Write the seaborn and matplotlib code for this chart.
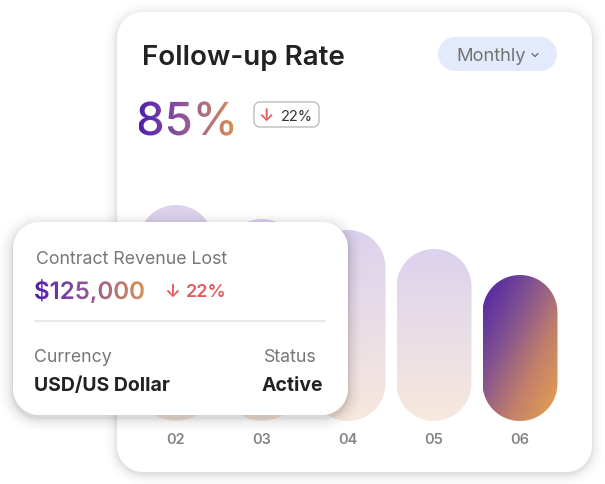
"""Follow-up rate card with overlay revenue card."""

import matplotlib

matplotlib.use("Agg")

import matplotlib.pyplot as plt
import numpy as np
import seaborn as sns
from matplotlib.colors import LinearSegmentedColormap
from matplotlib.font_manager import FontProperties
from matplotlib.patches import PathPatch, Polygon
from matplotlib.text import TextPath
from matplotlib.transforms import Affine2D

# data
months = ["02", "03", "04", "05", "06"]
bar_heights = [216, 202, 191, 172, 146]
highlight_month = "06"

title = "Follow-up Rate"
period = "Monthly"
rate_value = "85%"
rate_change = "22%"
revenue_label = "Contract Revenue Lost"
revenue_value = "$125,000"
revenue_change = "22%"
currency_label, currency_value = "Currency", "USD/US Dollar"
status_label, status_value = "Status", "Active"

W, H = 605, 484
FONT = ["Inter", "DejaVu Sans"]
PURPLE, ORANGE = "#4f21ae", "#d88e52"
LIGHT_TOP, LIGHT_BOTTOM = "#dcd2ee", "#f7e9de"
TEXT_DARK, TEXT_GRAY, RED = "#222222", "#777777", "#e25c5c"

sns.set_theme(style="white")
plt.rcParams["font.family"] = FONT


def rounded(ax, x, y, w, h, r, **kw):
    # rounded rectangle with true circular corners (y grows downwards)
    r = min(r, w / 2, h / 2)
    t = np.linspace(0, np.pi / 2, 24)
    pts = []
    for cx, cy, a0 in [(x + w - r, y + r, -np.pi / 2), (x + w - r, y + h - r, 0),
                       (x + r, y + h - r, np.pi / 2), (x + r, y + r, np.pi)]:
        pts.extend(zip(cx + r * np.cos(a0 + t), cy + r * np.sin(a0 + t)))
    poly = Polygon(pts, closed=True, **kw)
    ax.add_patch(poly)
    return poly


def card(ax, x, y, w, h, r, shadow=0.05, drop=3, spread=12):
    for i in range(spread, 0, -1):
        rounded(ax, x - i, y - i + drop, w + 2 * i, h + 2 * i, r + i,
                facecolor="black", edgecolor="none", alpha=shadow / i ** 0.8)
    rounded(ax, x, y, w, h, r, facecolor="white", edgecolor="none")


def fill_gradient(ax, clip, x0, y0, x1, y1, stops, diagonal=False, n=200):
    cmap = LinearSegmentedColormap.from_list("g", stops)
    X, Y = np.meshgrid(np.linspace(0, 1, n), np.linspace(0, 1, n))
    t = (X + Y) / 2 if diagonal else Y
    im = ax.imshow(cmap(t), extent=[x0, x1, y1, y0], origin="upper",
                   aspect="auto", interpolation="bilinear", zorder=clip.get_zorder())
    im.set_clip_path(clip)


def gradient_text(ax, x, y, s, size, weight):
    prop = FontProperties(family=FONT, weight=weight)
    tp = TextPath((0, 0), s, size=size, prop=prop)
    path = Affine2D().scale(1, -1).translate(x, y).transform_path(tp)
    patch = PathPatch(path, facecolor="none", edgecolor="none", transform=ax.transData,
                      zorder=4)
    ax.add_patch(patch)
    ext = path.get_extents()
    cmap = LinearSegmentedColormap.from_list("t", [PURPLE, "#955a98", ORANGE])
    grad = cmap(np.linspace(0, 1, 256))[None, :, :]
    im = ax.imshow(grad, extent=[ext.x0, ext.x1, ext.y1, ext.y0], origin="upper",
                   aspect="auto", interpolation="bilinear", zorder=4)
    im.set_clip_path(patch)
    return ext


fig = plt.figure(figsize=(W / 100, H / 100), dpi=100)
fig.patch.set_facecolor("white")

ax0 = fig.add_axes([0, 0, 1, 1], zorder=0)
ax0.set_xlim(0, W)
ax0.set_ylim(H, 0)
ax0.set_autoscale_on(False)
ax0.axis("off")

# main card
card(ax0, 117, 12, 475, 460, 26, shadow=0.03, drop=2)
ax0.text(142, 65, title, fontsize=20, fontweight="semibold", color=TEXT_DARK)
rounded(ax0, 438, 37, 119, 34, 17, facecolor="#e3eafc", edgecolor="none")
ax0.text(456, 61, period, fontsize=13.2, color="#737373")
ax0.plot([532, 535, 538], [53.5, 56.5, 53.5], color="#737373", lw=1.0,
         solid_capstyle="round", solid_joinstyle="round")
gradient_text(ax0, 136, 135, rate_value, 45.5, "medium")
rounded(ax0, 254, 102, 65, 25, 6, facecolor="white", edgecolor="#b5b5b5", lw=0.9)
ax0.text(266, 121, "↓", fontsize=12.5, color=RED, ha="center", fontweight="semibold")
ax0.text(281, 121, rate_change, fontsize=10.5, color="#333333")

# bars through seaborn
ax_bar = fig.add_axes([133 / W, (H - 421) / H, 430 / W, 230 / H], zorder=1)
sns.barplot(x=months, y=bar_heights, width=75 / 86, ax=ax_bar, color=LIGHT_TOP)
ax_bar.set_xlim(-0.5, len(months) - 0.5)
ax_bar.set_ylim(0, 230)
ax_bar.set_facecolor("none")
sns.despine(ax=ax_bar, left=True, bottom=True)
ax_bar.set_yticks([])
ax_bar.tick_params(axis="x", length=0, pad=9, labelsize=10.5, labelcolor="#858585")
for lbl in ax_bar.get_xticklabels():
    lbl.set_fontweight("semibold")

to_px = ax_bar.transData + ax0.transData.inverted()
for month, patch in zip(months, ax_bar.patches):
    bx, bw, bh = patch.get_x(), patch.get_width(), patch.get_height()
    (x0, y1), (x1, y0) = to_px.transform([(bx, 0), (bx + bw, bh)])
    patch.set_visible(False)
    pill = rounded(ax0, x0, y0, x1 - x0, y1 - y0, (x1 - x0) / 2,
                   facecolor="none", edgecolor="none", zorder=2)
    if month == highlight_month:
        fill_gradient(ax0, pill, x0, y0, x1, y1,
                      ["#4a1fa8", "#7e4f92", "#c2806a", "#eba34c"], diagonal=True)
    else:
        fill_gradient(ax0, pill, x0, y0, x1, y1, [LIGHT_TOP, LIGHT_BOTTOM])

# overlay card
ax_top = fig.add_axes([0, 0, 1, 1], zorder=3)
ax_top.set_xlim(0, W)
ax_top.set_ylim(H, 0)
ax_top.set_autoscale_on(False)
ax_top.axis("off")
ax_top.patch.set_alpha(0)

card(ax_top, 13, 222, 335, 193, 26, shadow=0.04, drop=3, spread=14)
ax_top.text(36, 264, revenue_label, fontsize=12.8, color=TEXT_GRAY)
gradient_text(ax_top, 34, 299, revenue_value, 24, "semibold")
ax_top.text(172, 297, "↓", fontsize=13, color=RED, ha="center", fontweight="semibold")
ax_top.text(186, 297, revenue_change, fontsize=13, color=RED, fontweight="semibold")
ax_top.plot([35, 325], [321, 321], color="#e9e9e9", lw=1.5)
ax_top.text(34, 362, currency_label, fontsize=12.8, color=TEXT_GRAY)
ax_top.text(317, 362, status_label, fontsize=12.8, color=TEXT_GRAY, ha="right")
ax_top.text(34, 391, currency_value, fontsize=14, color=TEXT_DARK, fontweight="bold")
ax_top.text(323, 391, status_value, fontsize=14, color=TEXT_DARK, fontweight="bold",
            ha="right")

fig.savefig("out.png", dpi=100, facecolor="white")
